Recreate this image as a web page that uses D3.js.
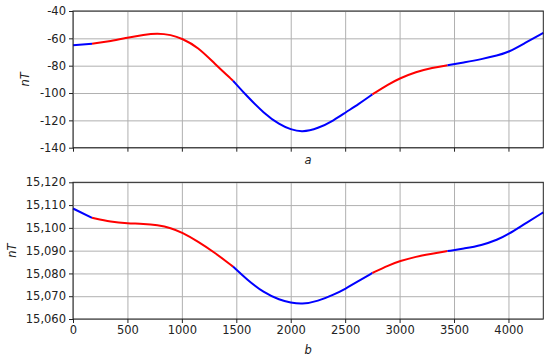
<!DOCTYPE html>
<html>
<head>
<meta charset="utf-8">
<script src="https://cdn.jsdelivr.net/npm/d3@7"></script>
<style>
  body { margin: 0; background: #fff; }
  svg text { font-family: "DejaVu Sans", sans-serif; }
  .grid line { stroke: #b0b0b0; stroke-width: 1; }
  .grid path { display: none; }
</style>
</head>
<body>
<div id="chart"></div>
<script>
const width = 550;
const height = 359;

// distance along profile
const distances = [0, 175, 350, 500, 650, 775, 900, 1000, 1150, 1300, 1470, 1600, 1750, 1900, 2000, 2100,
    2250, 2400, 2500, 2625, 2750, 2900, 3000, 3150, 3300, 3440, 3600, 3750, 3900, 4000, 4150, 4320];

// panel a (nT)
const seriesA = [-65, -64, -62, -59.5, -57.3, -56.2, -57.4, -60, -66.5, -78.5, -91, -102.5, -114.5, -123.4, -126.6, -128.8,
    -126, -119.8, -114.4, -108, -101, -93.5, -89.3, -84.5, -81.5, -79.7, -77.5, -75.3, -72.5, -70.2, -63.5, -56];

// panel b (nT)
const seriesB = [15108.5, 15104.4, 15102.6, 15102.0, 15101.8, 15101.2, 15100.0, 15098.0, 15094.0, 15089.2, 15083.0,
    15077.2, 15071.6, 15068.3, 15067.2, 15066.4, 15067.8, 15070.8, 15073.2, 15076.7, 15080.2, 15083.6, 15085.4,
    15087.4, 15088.6, 15089.8, 15091, 15092.3, 15094.8, 15097.2, 15101.8, 15106.8];

// where the line colour switches
const breaks = [175, 1470, 2750, 3440];
const segColors = ["blue", "red", "blue", "red", "blue"];

const xTicks = [0, 500, 1000, 1500, 2000, 2500, 3000, 3500, 4000];
const yTicksA = [-40, -60, -80, -100, -120, -140];
const yTicksB = [15060, 15070, 15080, 15090, 15100, 15110, 15120];

const svg = d3.select("#chart").append("svg")
    .attr("width", width)
    .attr("height", height);

const x = d3.scaleLinear()
    .domain([0, 4320])
    .range([73, 543.3]);

function drawPanel(values, yDomain, yTicks, top, bottom, fmt, showXLabels, label, ylabelX) {
    const y = d3.scaleLinear().domain(yDomain).range([bottom, top]);
    const g = svg.append("g");

    // grid
    g.append("g").attr("class", "grid")
        .attr("transform", `translate(0,${bottom})`)
        .call(d3.axisBottom(x).tickValues(xTicks).tickSize(-(bottom - top)).tickFormat(""));
    g.append("g").attr("class", "grid")
        .attr("transform", `translate(${x.range()[0]},0)`)
        .call(d3.axisLeft(y).tickValues(yTicks).tickSize(-(x.range()[1] - x.range()[0])).tickFormat(""));

    // coloured segments
    const pts = distances.map((d, i) => ({ d: d, v: values[i] }));
    const bounds = [0].concat(breaks, [Infinity]);
    const line = d3.line()
        .x(p => x(p.d))
        .y(p => y(p.v))
        .curve(d3.curveBasis);
    segColors.forEach((c, i) => {
        const seg = pts.filter(p => p.d >= bounds[i] && p.d <= bounds[i + 1]);
        g.append("path")
            .datum(seg)
            .attr("fill", "none")
            .attr("stroke", c)
            .attr("stroke-width", 2)
            .attr("d", line);
    });

    // frame
    g.append("rect")
        .attr("x", x.range()[0])
        .attr("y", top)
        .attr("width", x.range()[1] - x.range()[0])
        .attr("height", bottom - top)
        .attr("fill", "none")
        .attr("stroke", "#222")
        .attr("stroke-width", 1);

    const xAxis = g.append("g")
        .attr("transform", `translate(0,${bottom})`)
        .call(d3.axisBottom(x).tickValues(xTicks).tickSize(4).tickPadding(3)
            .tickFormat(showXLabels ? d3.format("d") : ""));
    const yAxis = g.append("g")
        .attr("transform", `translate(${x.range()[0]},0)`)
        .call(d3.axisLeft(y).tickValues(yTicks).tickSize(4).tickPadding(3).tickFormat(fmt));

    [xAxis, yAxis].forEach(ax => {
        ax.select(".domain").remove();
        ax.selectAll("line").attr("stroke", "#222");
        ax.selectAll("text").attr("fill", "#222").style("font-size", "11.5px");
    });

    g.append("text")
        .attr("x", (x.range()[0] + x.range()[1]) / 2)
        .attr("y", showXLabels ? bottom + 35 : bottom + 16)
        .attr("text-anchor", "middle")
        .style("font-size", "11.5px")
        .style("font-style", "italic")
        .attr("fill", "#222")
        .text(label);

    g.append("text")
        .attr("transform", `translate(${ylabelX},${(top + bottom) / 2}) rotate(-90)`)
        .attr("text-anchor", "middle")
        .attr("dy", "0.35em")
        .style("font-size", "11.5px")
        .style("font-style", "italic")
        .attr("fill", "#222")
        .text("nT");
}

drawPanel(seriesA, [-140, -40], yTicksA, 11, 147.7, d => String(d), false, "a", 25);
drawPanel(seriesB, [15060, 15120], yTicksB, 182.3, 319, d3.format(","), true, "b", 12);
</script>
</body>
</html>
